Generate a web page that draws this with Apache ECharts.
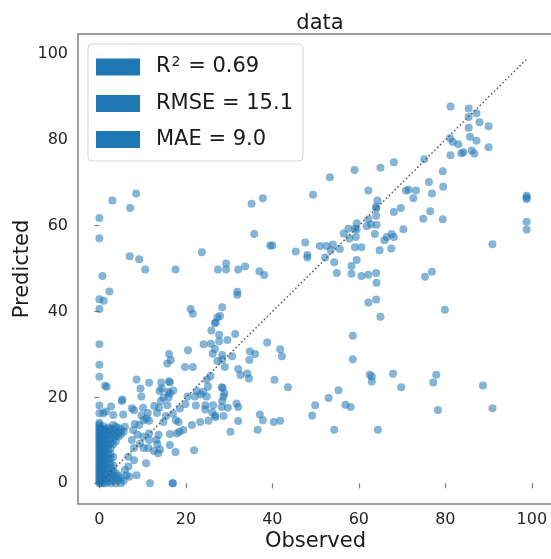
<!DOCTYPE html>
<html>
<head>
<meta charset="utf-8">
<script src="https://cdn.jsdelivr.net/npm/echarts@6/dist/echarts.min.js"></script>
<style>html,body{margin:0;padding:0;background:#fff;}#c{width:551px;height:559px;}</style>
</head>
<body>
<div id="c"></div>
<script>
const chartTitle = 'data';
const xName = 'Observed';
const yName = 'Predicted';
const xTicks = [0, 20, 40, 60, 80, 100];
const yTicks = [0, 20, 40, 60, 80, 100];
const metricLabels = ['R\u00b2 = 0.69', 'RMSE = 15.1', 'MAE = 9.0'];
const diagLine = [0, 98.8];

// [observed, predicted]
const points = [
 [81.2,87.8],[85.4,87.3],[85.4,85.3],[87.2,86.2],[87.9,84.1],[90.0,83.2],[85.4,82.8],[81.1,80.4],[81.7,79.5],[83.0,79.0],
 [85.7,80.7],[87.2,79.8],[90.0,78.3],[86.1,77.5],[86.7,76.8],[83.7,76.9],[84.2,77.1],[81.2,76.4],[75.1,75.5],[68.1,74.8],
 [65.0,73.5],[59.0,73.0],[53.3,71.3],[79.4,72.7],[76.2,70.2],[79.5,69.1],[49.4,67.2],[62.2,68.2],[70.9,68.2],[71.5,68.4],
 [73.2,68.2],[72.6,66.4],[76.9,67.5],[64.3,65.9],[64.0,64.4],[64.0,64.0],[98.8,67.0],[98.8,66.6],[98.8,66.2],[98.8,60.9],
 [98.8,59.1],[90.9,55.7],[69.7,64.1],[68.1,63.2],[76.5,63.4],[74.9,61.6],[79.4,61.5],[64.0,62.3],[62.2,61.5],[64.1,60.2],
 [59.5,60.6],[61.8,59.9],[62.8,60.3],[57.6,59.3],[59.1,59.3],[59.5,59.2],[56.5,58.2],[57.8,57.0],[59.3,57.4],[63.7,58.1],
 [70.3,59.2],[66.5,57.4],[67.6,58.1],[68.1,57.4],[65.9,56.6],[47.6,56.1],[51.0,55.3],[52.5,55.3],[54.0,55.6],[53.5,54.3],
 [55.6,54.6],[59.1,55.0],[60.6,55.0],[64.8,54.3],[67.5,54.7],[48.1,53.2],[48.1,52.6],[52.2,52.6],[54.3,51.5],[59.5,52.0],
 [58.3,50.6],[54.9,49.0],[58.3,48.8],[60.6,48.3],[62.2,48.6],[64.0,49.0],[64.1,46.7],[75.3,48.1],[76.9,49.3],[62.2,42.1],
 [64.0,42.8],[65.0,38.8],[79.9,40.4],[58.6,34.4],[58.6,28.9],[62.5,25.3],[63.0,24.9],[63.0,23.7],[67.9,25.5],[77.9,25.3],
 [77.2,23.5],[88.7,22.8],[69.8,22.4],[55.3,21.7],
 [40.5,24.1],[43.6,22.4],[37.1,16.0],[37.8,14.7],[36.6,12.5],[40.3,14.3],[41.8,14.6],[49.2,15.8],[49.9,18.2],[53.0,19.9],
 [56.9,18.3],[58.1,17.8],[54.3,12.5],[64.4,12.5],[78.3,17.1],[90.9,17.5],
 [35.2,65.1],[37.8,66.4],[35.8,58.1],[39.5,55.4],[40.0,55.4],[23.7,53.8],[45.4,54.0],[27.4,49.8],[29.3,49.8],[29.3,51.2],
 [32.1,49.8],[33.7,50.5],[37.0,49.4],[38.1,48.5],[31.9,44.6],[31.9,43.9],[28.4,41.0],[27.9,39.0],[27.3,38.7],[26.9,37.5],
 [26.7,37.3],[25.9,35.6],[27.7,34.6],[27.7,33.1],[29.6,33.4],[31.4,34.8],[24.1,32.4],[25.8,32.5],[26.7,31.3],[26.2,30.2],
 [28.4,29.9],[30.7,29.6],[27.3,28.5],[28.4,28.8],[29.0,27.1],[38.8,32.8],[34.8,30.7],[36.0,30.1],[41.8,31.2],[42.2,29.6],
 [34.7,28.7],[32.1,26.6],[32.6,25.2],[34.2,25.6],[34.6,24.4],[24.8,24.1],[25.7,25.0],[25.1,22.5],[28.3,22.4],
 [8.5,67.5],[3.0,65.9],[7.1,64.1],[0,61.8],[0,57.1],[7.0,52.9],[9.2,52.2],[10.6,49.8],[17.6,49.8],[0.7,48.3],
 [2.3,44.7],[0,42.9],[1.0,42.5],[0,40.6],[21.1,40.6],[21.6,39.5],[0,32.4],[0,27.6],[0,24.8],[8.6,24.2],
 [1.7,22.5],[1.3,22.7],[16.1,30.1],[16.5,28.7],[15.7,27.9],[20.5,31.0],[19.8,27.1],[21.6,27.1],[16.1,23.8],
 [9.5,22.1],[9.7,20.2],[11.5,23.4],[13.9,21.5],[15.9,21.3],[14.3,23.5],[16.3,23.5],[17.1,21.6],[5.2,19.2],[5.3,19.5],
 [0,18.1],[0,16.3],[2.7,17.9],[3.2,15.9],[1.5,16.7],[0.9,16.3],[5.5,16.0],[8.0,17.0],[10.1,17.6],[9.7,15.8],
 [11.2,16.4],[12.7,18.0],[13.3,16.4],[11.5,14.6],[10.2,14.7],[13.8,17.6],[14.2,19.2],[14.8,20.0],[15.7,18.2],[16.0,20.0],
 [16.3,21.0],[15.4,15.7],[14.8,14.3],[17.0,16.2],[18.6,17.4],[19.9,18.5],[20.4,20.2],[22.1,20.2],[22.5,21.5],[23.4,20.7],
 [24.8,20.2],[24.0,21.3],[22.3,18.1],[24.5,18.2],[26.3,18.2],[26.1,16.5],[24.5,17.2],[28.5,22.2],[28.9,21.0],[28.7,20.2],
 [28.4,19.2],[28.3,17.8],[26.8,15.8],[28.7,15.7],[29.7,17.6],[31.7,18.6],[32.1,17.8],[32.1,14.5],[30.3,12.0],[23.3,14.3],
 [25.2,14.6],[26.8,15.4],[21.4,13.6],[19.4,12.4],[17.7,14.7],[18.3,14.3],[17.9,11.6],[18.5,12.0],[16.3,11.5],[16.3,8.9],
 [17.6,7.3],[21.9,7.7],[13.7,11.3],[13.2,10.1],[13.4,9.1],[14.0,7.9],[13.6,7.0],[10.8,4.7],[11.5,11.6],[11.5,10.1],
 [10.2,10.9],[11.3,8.2],[10.2,8.2],[12.6,7.5],[8.6,1.9],[6.9,1.5],[11.7,0],[16.9,0],[17.0,0],[8.2,13.8],
 [9.2,13.6],[7.8,12.4],[8.8,11.3],[7.5,10.1],[9.4,9.3],[8.0,8.2],[6.7,6.2],[8.0,5.4],[6.7,3.9],[5.9,3.1],
 [6.3,1.9],[14.4,22.1],[10.9,15.1],[5.9,13.2],[4.4,10.9],[7.5,17.5],
 [0,0],[0,0.3],[0,0.7],[0,1.1],[0,1.5],[0,2.0],[0,2.4],[0,2.9],[0,3.3],[0,3.8],[0,4.2],[0,4.7],[0,5.1],[0,5.6],
 [0,6.0],[0,6.5],[0,6.9],[0,7.4],[0,7.8],[0,8.3],[0,8.7],[0,9.2],[0,9.6],[0,10.1],[0,10.5],[0,11.0],[0,11.4],
 [0,11.9],[0,12.3],[0,12.8],[0,13.2],[0,13.7],[0,14.1],
 [0.4,0],[0.4,0.8],[0.4,1.7],[0.4,2.5],[0.4,3.4],[0.4,4.2],[0.4,5.1],[0.4,5.9],[0.4,6.8],[0.4,7.6],[0.4,8.5],
 [0.4,9.3],[0.4,10.2],[0.4,11.0],[0.4,11.9],[0.4,12.7],
 [0.9,0.2],[0.9,1.2],[0.9,2.2],[0.9,3.2],[0.9,4.3],[0.9,5.3],[0.9,6.4],[0.9,7.3],[0.9,8.3],[0.9,9.4],[0.9,10.4],
 [0.9,11.5],[0.9,12.4],[0.9,13.3],
 [1.4,0],[1.4,1.0],[1.4,2.0],[1.4,3.1],[1.4,4.1],[1.4,5.2],[1.4,6.2],[1.4,7.2],[1.4,8.2],[1.4,9.3],[1.4,10.3],
 [1.4,11.3],[1.4,12.6],
 [2.0,0.4],[2.0,1.5],[2.0,2.6],[2.0,3.7],[2.0,4.8],[2.0,5.8],[2.0,6.9],[2.0,8.0],[2.0,9.0],[2.0,10.0],[2.0,11.1],
 [2.0,12.1],[2.0,13.0],
 [2.6,0],[2.6,1.2],[2.6,2.3],[2.6,3.5],[2.6,4.6],[2.6,5.7],[2.6,6.8],[2.6,8.1],[2.6,9.3],[2.6,10.6],[2.6,11.7],[2.6,12.7],
 [3.2,0.6],[3.2,1.8],[3.2,3.0],[3.2,4.1],[3.2,6.1],[3.2,9.1],[3.2,10.3],[3.2,11.4],[3.2,12.5],[3.2,13.6],
 [3.8,0],[3.8,1.2],[3.8,2.3],[3.8,9.8],[3.8,11.0],[3.8,12.2],[3.8,13.2],
 [4.4,0.7],[4.4,1.8],[4.4,11.8],[4.4,12.9],
 [5.0,0],[5.0,1.3],[5.0,11.4],[5.0,12.5],
 [5.6,0.6],[5.6,12.0]
];

const chart = echarts.init(document.getElementById('c'), null, {renderer: 'canvas'});
const blue = '#1f77b4';
const font = 'DejaVu Sans';

const legendSeries = metricLabels.map(n => ({
  name: n, type: 'scatter', data: [], itemStyle: {color: blue, opacity: 1}
}));

chart.setOption({
  animation: false,
  backgroundColor: '#ffffff',
  title: {
    text: chartTitle, left: 315, top: 8, textAlign: 'center',
    textStyle: {fontFamily: font, fontSize: 21, fontWeight: 'normal', color: '#1a1a1a'}
  },
  legend: {
    data: metricLabels.map(n => ({name: n, icon: 'rect'})),
    orient: 'vertical', left: 88, top: 44,
    itemWidth: 44, itemHeight: 17, itemGap: 15,
    padding: [11, 10, 11, 8],
    backgroundColor: 'rgba(255,255,255,0.85)',
    borderColor: '#d6d6d6', borderWidth: 1, borderRadius: 4,
    selectedMode: false,
    formatter: function (name) {
      if (name.indexOf('\u00b2') >= 0) {
        const parts = name.split('\u00b2');
        return '{base|' + parts[0] + '}{sup|2}{base|' + parts[1] + '}';
      }
      return '{base|' + name + '}';
    },
    textStyle: {
      fontFamily: font, fontSize: 21, color: '#1a1a1a', padding: [0, 0, 0, 11],
      rich: {
        base: {fontFamily: font, fontSize: 21, color: '#1a1a1a', lineHeight: 24},
        sup: {fontFamily: font, fontSize: 14, color: '#1a1a1a', lineHeight: 24, verticalAlign: 'top', padding: [0, 1, 9, 1]}
      }
    }
  },
  grid: {
    left: 78, top: 34, width: 475, height: 470,
    outerBoundsMode: 'none', containLabel: false,
    show: true, borderColor: '#808080', borderWidth: 1.5, backgroundColor: 'transparent'
  },
  xAxis: {
    type: 'value', min: -4.95, max: 104.9,
    name: xName, nameLocation: 'middle', nameGap: 27, nameMoveOverlap: false,
    nameTextStyle: {fontFamily: font, fontSize: 21, color: '#1a1a1a'},
    axisLine: {show: false},
    axisTick: {show: true, length: 5, lineStyle: {color: '#808080', width: 1.2}, customValues: xTicks},
    axisLabel: {fontFamily: font, fontSize: 16, color: '#262626', margin: 8, customValues: xTicks},
    splitLine: {show: false}
  },
  yAxis: {
    type: 'value', min: -4.82, max: 104.66,
    name: yName, nameLocation: 'middle', nameGap: 45, nameMoveOverlap: false,
    nameTextStyle: {fontFamily: font, fontSize: 21, color: '#1a1a1a'},
    axisLine: {show: false},
    axisTick: {show: true, length: 5, lineStyle: {color: '#808080', width: 1.2}, customValues: yTicks},
    axisLabel: {fontFamily: font, fontSize: 16, color: '#262626', margin: 10, customValues: yTicks},
    splitLine: {show: false}
  },
  series: [
    {
      name: 'points', type: 'scatter', data: points, symbolSize: 8,
      itemStyle: {color: blue, opacity: 0.55}, z: 2
    },
    {
      name: 'diag', type: 'line', data: [[diagLine[0], diagLine[0]], [diagLine[1], diagLine[1]]],
      symbol: 'none', lineStyle: {color: '#555555', width: 1.5, type: [1.5, 2.5]}, z: 3
    }
  ].concat(legendSeries)
});
</script>
</body>
</html>
